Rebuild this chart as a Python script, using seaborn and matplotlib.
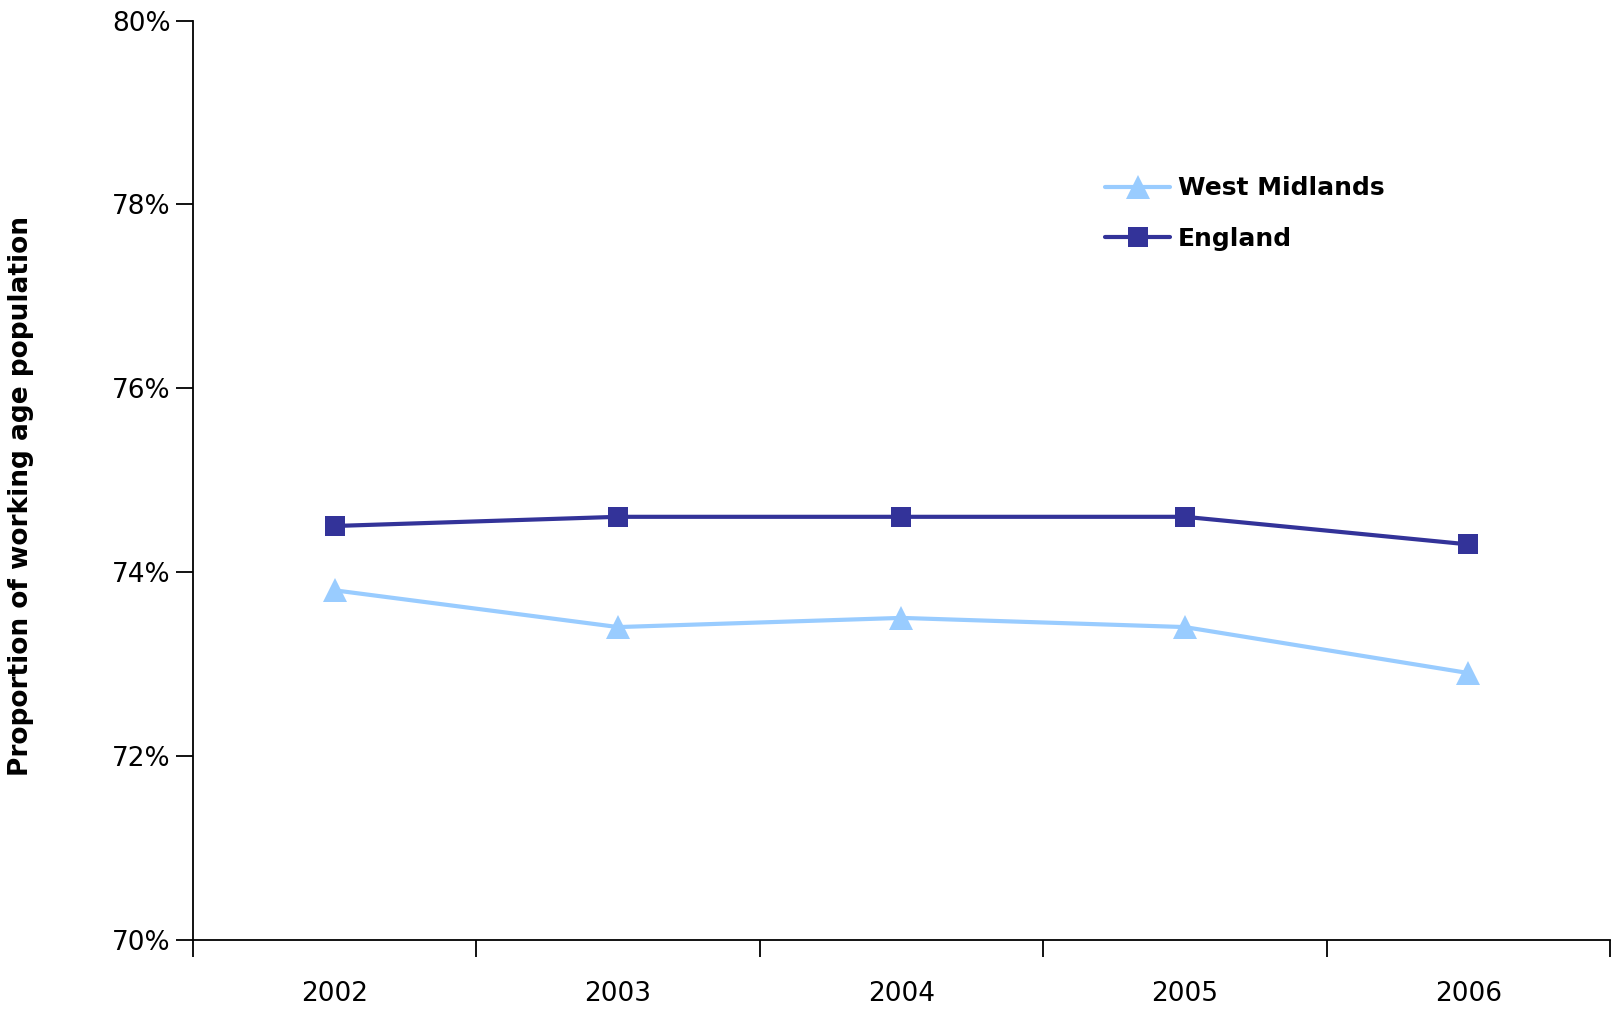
import pandas as pd
import numpy as np
import matplotlib.pyplot as plt
import seaborn as sns
from matplotlib.ticker import FixedLocator, PercentFormatter

years = ["2002", "2003", "2004", "2005", "2006"]
west_midlands = [73.8, 73.4, 73.5, 73.4, 72.9]
england = [74.5, 74.6, 74.6, 74.6, 74.3]

df = pd.DataFrame({
    "pos": list(range(len(years))) * 2,
    "value": west_midlands + england,
    "area": ["West Midlands"] * len(years) + ["England"] * len(years),
})

sns.set_style("white")
plt.rcParams["font.family"] = ["DejaVu Sans"]
plt.rcParams["text.color"] = "black"
plt.rcParams["xtick.color"] = "black"
plt.rcParams["ytick.color"] = "black"
plt.rcParams["axes.labelcolor"] = "black"

fig = plt.figure(figsize=(16.12, 10.10), dpi=100)
ax = fig.add_axes([0.1197, 0.0698, 0.879, 0.9098])

colors = {"West Midlands": "#99CCFF", "England": "#333399"}
markers = {"West Midlands": "^", "England": "s"}
msize = {"West Midlands": 17, "England": 15}
for name in ["West Midlands", "England"]:
    sub = df[df["area"] == name]
    sns.lineplot(data=sub, x="pos", y="value", ax=ax, color=colors[name],
                 marker=markers[name], markersize=msize[name],
                 markeredgewidth=0, linewidth=3, label=name)

ax.set_xlim(-0.5, 4.5)
ax.set_ylim(70, 80)
ax.yaxis.set_major_locator(FixedLocator([70, 72, 74, 76, 78, 80]))
ax.yaxis.set_major_formatter(PercentFormatter(decimals=0))
ax.set_xticks(range(len(years)))
ax.set_xticklabels(years)
ax.xaxis.set_minor_locator(FixedLocator(np.arange(-0.5, 5, 1)))
ax.tick_params(axis="x", which="major", length=0, pad=30, labelsize=19)
ax.tick_params(axis="x", which="minor", length=12, width=1.3,
               direction="out", bottom=True)
ax.tick_params(axis="y", length=12, width=1.3, direction="out", left=True,
               labelsize=19, pad=4)

for s in ["top", "right"]:
    ax.spines[s].set_visible(False)
for s in ["left", "bottom"]:
    ax.spines[s].set_color("black")
    ax.spines[s].set_linewidth(1.3)

ax.set_xlabel("")
ax.set_ylabel("Proportion of working age population", fontsize=19,
              fontweight="bold")
ax.yaxis.set_label_coords(-0.112, 0.483)

leg = ax.legend(loc="center left", bbox_to_anchor=(0.628, 0.79), frameon=False,
                handlelength=2.6, handletextpad=0.3, labelspacing=1.05,
                prop={"size": 18, "weight": "bold"})

fig.savefig("out.png", dpi=100)
